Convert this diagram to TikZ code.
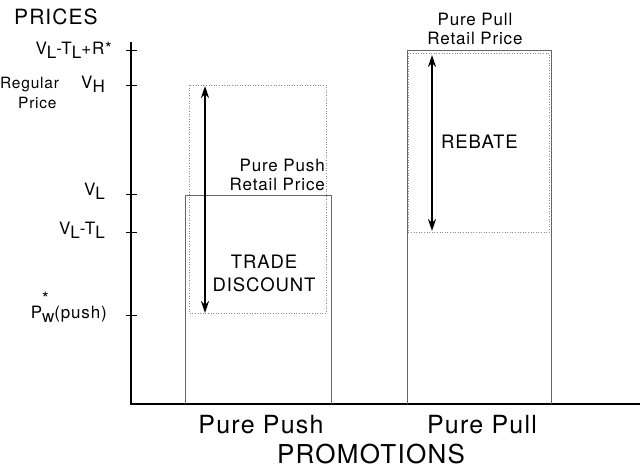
\documentclass[tikz,border=0pt]{standalone}
\usepackage{fontspec}
\setmainfont[LetterSpace=5]{TeX Gyre Heros}
\usetikzlibrary{arrows.meta}

\newcommand{\lowsub}[1]{\raisebox{-0.5ex}{#1}}

\tikzset{
  axislabel/.style={anchor=base east,inner sep=0pt,font=\fontsize{17}{18}\selectfont},
  retaillabel/.style={inner sep=0pt,font=\fontsize{17}{19}\selectfont},
  promolabel/.style={inner sep=0pt,align=center,font=\fontsize{18.5}{23}\selectfont},
  bottomlabel/.style={inner sep=0pt,font=\fontsize{25}{28}\selectfont},
  barbox/.style={draw=black!60,line width=0.6pt},
  dotbox/.style={draw=black!45,dotted,line width=0.6pt},
  promoarrow/.style={{Stealth[length=12pt,width=8pt]}-{Stealth[length=12pt,width=8pt]},line width=2.5pt},
}

\begin{document}
\begin{tikzpicture}[x=1pt,y=-1pt]
    \useasboundingbox (0,0) rectangle (640,469);

    % axes and ticks
    \draw[line width=1.2pt] (131,42) -- (131,404) -- (640,404);
    \foreach \y in {50,85,194,232,315}
        \draw[line width=0.8pt] (126,\y) -- (137,\y);

    % price axis labels
    \node[anchor=west,inner sep=0pt,font=\fontsize{21}{24}\selectfont] (prices) at (14,17) {PRICES};
    \node[axislabel] (vltlr) at (112,54) {V\lowsub{L}-T\lowsub{L}+R*};
    \node[axislabel] (vh) at (105,88) {V\lowsub{H}};
    \node[axislabel,anchor=base west,font=\fontsize{15.5}{18}\selectfont] (regular) at (0,88) {Regular};
    \node[axislabel,anchor=base west,font=\fontsize{15.5}{18}\selectfont] (price) at (18,108) {Price};
    \node[axislabel] (vl) at (105,195) {V\lowsub{L}};
    \node[axislabel] (vlt) at (105,234) {V\lowsub{L}-T\lowsub{L}};
    \node[axislabel] (pw) at (107,318) {P\rlap{\raisebox{1.5ex}{*}}\lowsub{w}(push)};

    % pure push bar
    \draw[dotbox] (189,85) rectangle (326,313);
    \draw[barbox] (185,404) |- (331,195) -- (331,404);
    \coordinate (pushtop) at (205,86);
    \coordinate (pushbot) at (205,313);
    \draw[promoarrow] (pushtop) -- (pushbot);
    \node[retaillabel,anchor=east,align=right] (pushretail) at (325,175) {Pure Push\\Retail Price};
    \node[promolabel] (trade) at (264,273) {TRADE\\DISCOUNT};

    % pure pull bar
    \draw[dotbox] (408,53) rectangle (549,232);
    \draw[barbox] (407,404) |- (551,50) -- (551,404);
    \coordinate (pulltop) at (432,55);
    \coordinate (pullbot) at (432,231);
    \draw[promoarrow] (pulltop) -- (pullbot);
    \node[retaillabel,align=center] (pullretail) at (475,29) {Pure Pull\\Retail Price};
    \node[promolabel,anchor=west] (rebate) at (441,142) {REBATE};

    % promotion labels
    \node[bottomlabel] (push) at (261,425) {Pure Push};
    \node[bottomlabel] (pull) at (482,425) {Pure Pull};
    \node[bottomlabel,font=\fontsize{26}{28}\selectfont] (promotions) at (371,454) {PROMOTIONS};
\end{tikzpicture}
\end{document}
